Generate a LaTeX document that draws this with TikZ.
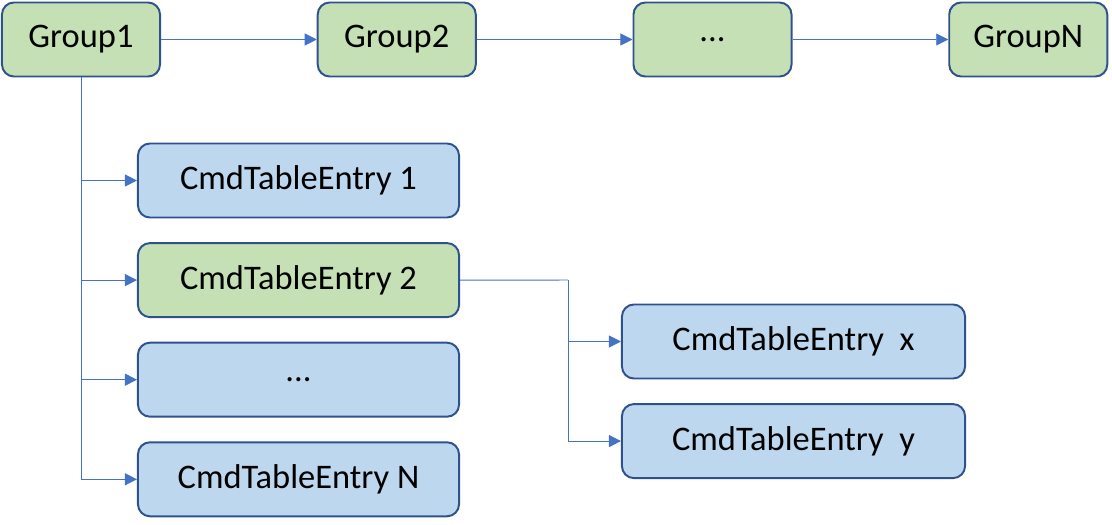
\documentclass[tikz,border=0pt]{standalone}
\usepackage{fontspec}
\setmainfont{Carlito}
\usepackage{xcolor}
\usetikzlibrary{positioning, arrows.meta}

\definecolor{grpfill}{HTML}{C5E0B4}
\definecolor{entfill}{HTML}{BDD7EE}
\definecolor{boxline}{HTML}{2F528F}
\definecolor{linkline}{HTML}{4472C4}

\begin{document}
\begin{tikzpicture}[
x=0.025cm, y=-0.025cm,
node distance=0.59cm and 3.8925cm,
grp/.style={rectangle, draw=boxline, line width=1.4pt, rounded corners=0.3cm, fill=grpfill, minimum width=3.95cm, minimum height=1.85cm, font=\fontsize{24.5}{29}\selectfont},
entry/.style={rectangle, draw=boxline, line width=1.4pt, rounded corners=0.3cm, fill=entfill, minimum width=8.025cm, minimum height=1.85cm, font=\fontsize{24.5}{29}\selectfont},
subentry/.style={entry, minimum width=8.575cm},
arrow/.style={-{Triangle[length=0.3cm, width=0.3cm]}, draw=linkline, line width=0.7pt},
link/.style={draw=linkline, line width=0.7pt}
]
\useasboundingbox (0,0) rectangle (1112,525);

\node[grp] (grp_1) at (81,39.5) {Group1};
\node[grp, right=of grp_1] (grp_2) {Group2};
\node[grp, right=of grp_2] (grp_dots) {...};
\node[grp, right=of grp_dots] (grp_n) {GroupN};

\node[entry] (ent_1) at (298.5,180.5) {CmdTableEntry 1};
\node[entry, below=of ent_1, fill=grpfill] (ent_2) {CmdTableEntry 2};
\node[entry, below=of ent_2] (ent_dots) {...};
\node[entry, below=of ent_dots] (ent_n) {CmdTableEntry N};

\node[subentry] (ent_x) at (793.5,341.5) {CmdTableEntry~~x};
\node[subentry, below=of ent_x] (ent_y) {CmdTableEntry~~y};

\coordinate (split) at (568,280);

\draw[arrow] (grp_1) -- (grp_2);
\draw[arrow] (grp_2) -- (grp_dots);
\draw[arrow] (grp_dots) -- (grp_n);

\draw[arrow] (grp_1.south) |- (ent_1);
\draw[arrow] (grp_1.south) |- (ent_2);
\draw[arrow] (grp_1.south) |- (ent_dots);
\draw[arrow] (grp_1.south) |- (ent_n);

\draw[link] (ent_2.east) -- (split);
\draw[arrow] (split) |- (ent_x);
\draw[arrow] (split) |- (ent_y);

\end{tikzpicture}
\end{document}
